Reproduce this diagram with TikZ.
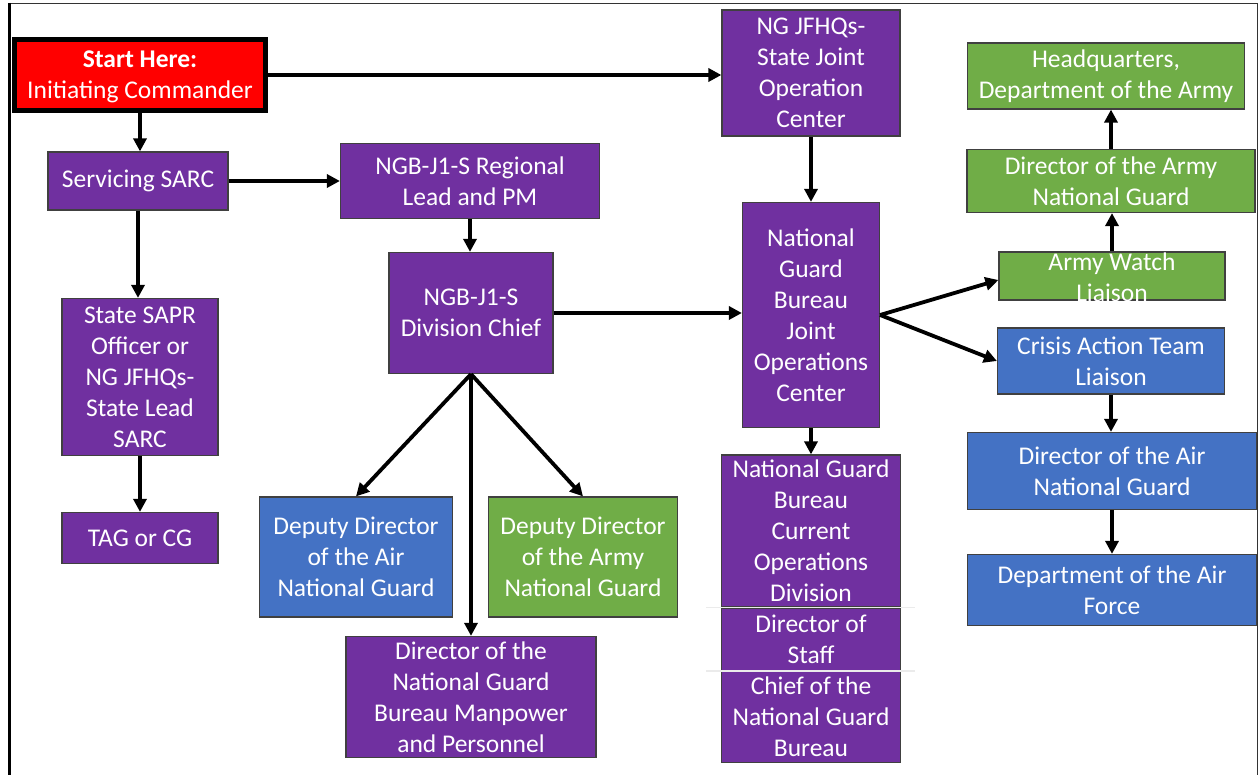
\documentclass[tikz,border=0pt]{standalone}
\usepackage{fontspec}
\setmainfont{Carlito}
\usetikzlibrary{arrows.meta}

\definecolor{boxpurple}{HTML}{7030A0}
\definecolor{boxgreen}{HTML}{70AD47}
\definecolor{boxblue}{HTML}{4472C4}
\definecolor{boxred}{HTML}{FF0000}

\tikzset{
  box/.style={draw=black!75, line width=1.2pt, text=white, align=center,
    inner sep=0pt, font=\fontsize{25.5}{31}\selectfont},
  purplebox/.style={box, fill=boxpurple},
  greenbox/.style={box, fill=boxgreen},
  bluebox/.style={box, fill=boxblue},
  redbox/.style={box, fill=boxred, draw=black, line width=5pt},
  boxtext/.style={text=white, align=center, inner sep=0pt, font=\fontsize{25.5}{31}\selectfont},
  arr/.style={->, line width=3.8pt},
  sepline/.style={draw=black!8, line width=1.5pt}
}

\begin{document}
\begin{tikzpicture}[x=1pt, y=-1pt, >={Triangle[length=13pt,width=13pt]}]
    \useasboundingbox (0,0) rectangle (1259,775);

    % 外枠
    \draw[line width=1pt, black!80] (9,775) -- (9,3.5) -- (1257.5,3.5) -- (1257.5,775);
    \draw[line width=3pt] (9.5,3) -- (9.5,775);

    % 左の列
    \node[redbox, minimum width=251, minimum height=71] (start) at (140,75) {};
    \node[boxtext] (starttext) at (140,77) {\textbf{Start Here:}\\Initiating Commander};
    \node[purplebox, minimum width=180, minimum height=58] (sarc) at (138,181) {Servicing SARC};
    \node[purplebox, minimum width=156, minimum height=157] (sapr) at (140,377)
        {State SAPR\\Officer or\\NG JFHQs-\\State Lead\\SARC};
    \node[purplebox, minimum width=156, minimum height=51] (tag) at (140,538) {TAG or CG};

    % 中央の列
    \node[purplebox, minimum width=259, minimum height=75] (regional) at (470,181)
        {NGB-J1-S Regional\\Lead and PM};
    \node[purplebox, minimum width=164, minimum height=121] (divchief) at (471,313)
        {NGB-J1-S\\Division Chief};
    \node[bluebox, minimum width=193, minimum height=120] (depair) at (356,557)
        {Deputy Director\\of the Air\\National Guard};
    \node[greenbox, minimum width=189, minimum height=120] (deparmy) at (583,557)
        {Deputy Director\\of the Army\\National Guard};
    \node[purplebox, minimum width=250, minimum height=121] (manpower) at (471,697)
        {Director of the\\National Guard\\Bureau Manpower\\and Personnel};

    % 統合作戦センター
    \node[purplebox, minimum width=178, minimum height=126] (jfhqs) at (811,73)
        {NG JFHQs-\\State Joint\\Operation\\Center};
    \node[purplebox, minimum width=137, minimum height=225] (ngbjoc) at (811,315)
        {National\\Guard\\Bureau\\Joint\\Operations\\Center};
    \node[purplebox, minimum width=179, minimum height=152] (curops) at (811,531)
        {National Guard\\Bureau\\Current\\Operations\\Division};
    \node[purplebox, minimum width=179, minimum height=62, anchor=north] (dirstaff) at (curops.south)
        {Director of\\Staff};
    \node[purplebox, minimum width=179, minimum height=91, anchor=north] (chiefngb) at (dirstaff.south)
        {Chief of the\\National Guard\\Bureau};
    \draw[sepline] ([xshift=-15pt]dirstaff.north west) -- ([xshift=14pt]dirstaff.north east);
    \draw[sepline] ([xshift=-15pt]chiefngb.north west) -- ([xshift=14pt]chiefngb.north east);

    % 右の列
    \node[greenbox, minimum width=277, minimum height=66] (hqda) at (1106,76)
        {Headquarters,\\Department of the Army};
    \node[greenbox, minimum width=288, minimum height=63] (dirarmy) at (1111,181)
        {Director of the Army\\National Guard};
    \node[greenbox, minimum width=226, minimum height=48] (watch) at (1112,276) {};
    \node[boxtext] (watchtext) at (1112,277) {Army Watch\\Liaison};
    \node[bluebox, minimum width=227, minimum height=66] (crisis) at (1111,361)
        {Crisis Action Team\\Liaison};
    \node[bluebox, minimum width=289, minimum height=77] (dirair) at (1112,471)
        {Director of the Air\\National Guard};
    \node[bluebox, minimum width=289, minimum height=71] (deptaf) at (1112,590)
        {Department of the Air\\Force};

    % 矢印
    \draw[arr] (start.east) -- (start.east -| jfhqs.west);
    \draw[arr] (start.south) -- (start.south |- sarc.north);
    \draw[arr] (sarc.east) -- (regional.west);
    \draw[arr] (sarc.south) -- (sarc.south |- sapr.north);
    \draw[arr] (sapr.south) -- (tag.north);
    \draw[arr] (regional.south) -- (regional.south |- divchief.north);
    \draw[arr] (divchief.east) -- (divchief.east -| ngbjoc.west);
    \draw[arr] (divchief.south) -- (depair.north);
    \draw[arr] (divchief.south) -- (deparmy.north);
    \draw[arr] (divchief.south) -- (divchief.south |- manpower.north);
    \draw[arr] (jfhqs.south) -- (ngbjoc.north);
    \draw[arr] (ngbjoc.south) -- (curops.north);
    \draw[arr] (ngbjoc.east) -- ([yshift=-4pt]watch.west);
    \draw[arr] (ngbjoc.east) -- (crisis.west);
    \draw[arr] (watch.north) -- (watch.north |- dirarmy.south);
    \draw[arr] (dirarmy.north) -- (dirarmy.north |- hqda.south);
    \draw[arr] (crisis.south) -- (crisis.south |- dirair.north);
    \draw[arr] (dirair.south) -- (deptaf.north);

\end{tikzpicture}
\end{document}
